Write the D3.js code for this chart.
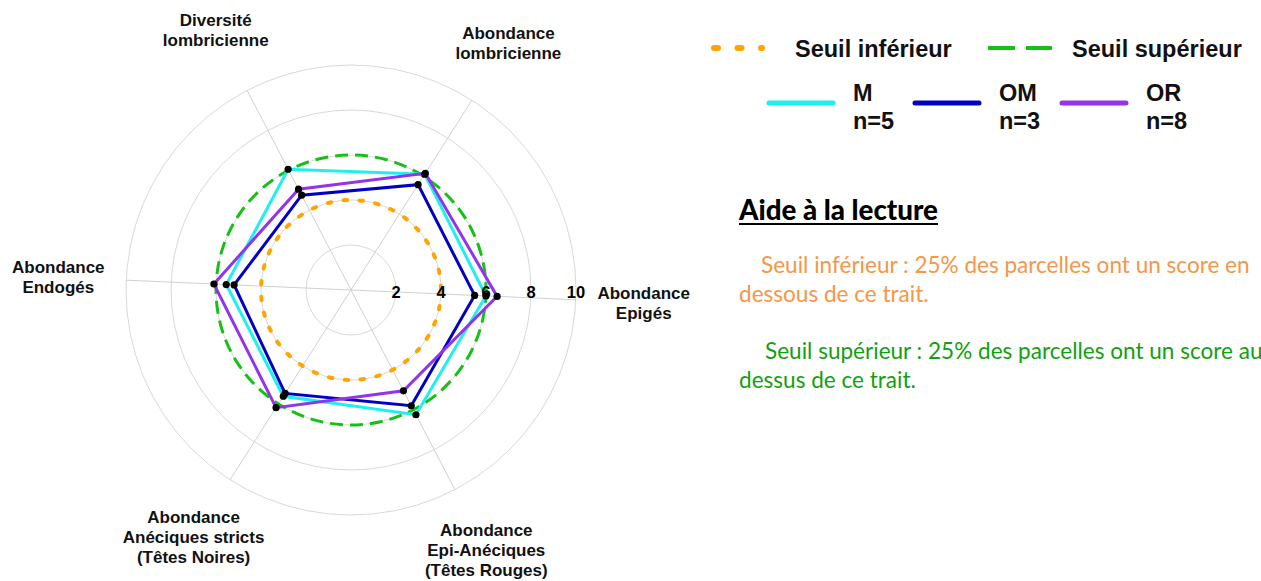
<!DOCTYPE html>
<html>
<head>
<meta charset="utf-8">
<script src="https://cdn.jsdelivr.net/npm/d3@7"></script>
<style>
  html, body { margin: 0; padding: 0; background: #ffffff; }
  svg { display: block; }
</style>
</head>
<body>
<svg id="chart" width="1261" height="581"></svg>
<script>
// ---------------- DATA ----------------
const categories = [
  ["Abondance", "Epigés"],
  ["Abondance", "lombricienne"],
  ["Diversité", "lombricienne"],
  ["Abondance", "Endogés"],
  ["Abondance", "Anéciques stricts", "(Têtes Noires)"],
  ["Abondance", "Epi-Anéciques", "(Têtes Rouges)"]
];
const seriesNames = ["M", "OM", "OR"];
const seriesCounts = ["n=5", "n=3", "n=8"];
const valuesM  = [6.0, 6.1, 6.05, 5.55, 5.6, 6.25];
const valuesOM = [5.5, 5.55, 4.75, 5.2, 5.45, 5.8];
const valuesOR = [6.5, 6.15, 5.05, 6.1, 6.2, 5.05];
const seuilInferieur = 4;
const seuilSuperieur = 6;
const radialTicks = [2, 4, 6, 8, 10];
const thresholdNames = ["Seuil inférieur", "Seuil supérieur"];
const helpTitle = "Aide à la lecture";
const helpLines = [
  "Seuil inférieur : 25% des parcelles ont un score en",
  "dessous de ce trait.",
  "Seuil supérieur : 25% des parcelles ont un score au",
  "dessus de ce trait."
];

// ---------------- LAYOUT ----------------
const svg = d3.select("#chart");
const cx = 351, cy = 290, R = 225;
const seriesColors = ["#1ef0f0", "#0000c4", "#9333ea"];
const seriesValues = [valuesM, valuesOM, valuesOR];

const r = d3.scaleLinear().domain([0, 10]).range([0, R]);
// d3 radial angle (clockwise from 12 o'clock); first axis slightly below horizontal-right
const angle = d3.scaleLinear().domain([0, categories.length])
  .range([92.5 * Math.PI / 180, (92.5 - 360) * Math.PI / 180]);

const g = svg.append("g").attr("transform", `translate(${cx},${cy})`);

// grid rings
g.selectAll("circle.ring").data(radialTicks).join("circle")
  .attr("class", "ring")
  .attr("r", d => r(d))
  .attr("fill", "none")
  .attr("stroke", "#d9d9d9")
  .attr("stroke-width", 1);

// spokes
g.selectAll("line.spoke").data(categories).join("line")
  .attr("class", "spoke")
  .attr("x1", 0).attr("y1", 0)
  .attr("x2", (d, i) => r(10) * Math.sin(angle(i)))
  .attr("y2", (d, i) => -r(10) * Math.cos(angle(i)))
  .attr("stroke", "#d0d0d0")
  .attr("stroke-width", 1);

// thresholds
g.append("circle").attr("r", r(seuilInferieur))
  .attr("fill", "none").attr("stroke", "#ffa500")
  .attr("stroke-width", 4).attr("stroke-linecap", "round")
  .attr("stroke-dasharray", "3.5 12.5");
g.append("circle").attr("r", r(seuilSuperieur))
  .attr("fill", "none").attr("stroke", "#17c017")
  .attr("stroke-width", 3)
  .attr("stroke-dasharray", "13 7");

// series
const radial = d3.lineRadial()
  .angle((d, i) => angle(i))
  .radius(d => r(d))
  .curve(d3.curveLinearClosed);

seriesValues.forEach((vals, s) => {
  g.append("path")
    .attr("d", radial(vals))
    .attr("fill", "none")
    .attr("stroke", seriesColors[s])
    .attr("stroke-width", 3)
    .attr("stroke-linejoin", "miter");
});
seriesValues.forEach((vals) => {
  g.selectAll(null).data(vals).join("circle")
    .attr("cx", (d, i) => r(d) * Math.sin(angle(i)))
    .attr("cy", (d, i) => -r(d) * Math.cos(angle(i)))
    .attr("r", 3.6)
    .attr("fill", "#000");
});

// radial tick labels
g.selectAll("text.tick").data(radialTicks).join("text")
  .attr("class", "tick")
  .attr("x", d => r(d))
  .attr("y", 2.5)
  .attr("dy", "0.36em")
  .attr("text-anchor", "middle")
  .attr("font-family", "Liberation Sans, Arial, sans-serif")
  .attr("font-weight", "bold")
  .attr("font-size", 16.5)
  .attr("fill", "#000")
  .text(d => d);

// category labels
const labelR = R + 68;
const lineH = 20;
categories.forEach((lines, i) => {
  const a = angle(i);
  const x = labelR * Math.sin(a);
  const y = -labelR * Math.cos(a);
  const t = g.append("text")
    .attr("text-anchor", "middle")
    .attr("font-family", "Liberation Sans, Arial, sans-serif")
    .attr("font-weight", "bold")
    .attr("font-size", 17)
    .attr("fill", "#111");
  const y0 = y - (lines.length - 1) * lineH / 2;
  lines.forEach((ln, k) => {
    t.append("tspan").attr("x", x).attr("y", y0 + k * lineH).attr("dy", "0.36em").text(ln);
  });
});

// ---------------- LEGEND ----------------
const leg = svg.append("g");
const legFont = "Liberation Sans, Arial, sans-serif";
leg.append("line").attr("x1", 714).attr("x2", 762).attr("y1", 48).attr("y2", 48)
  .attr("stroke", "#ffa500").attr("stroke-width", 6).attr("stroke-linecap", "round")
  .attr("stroke-dasharray", "4 19.5");
leg.append("text").attr("x", 795).attr("y", 57).text(thresholdNames[0]);
leg.append("line").attr("x1", 988).attr("x2", 1052).attr("y1", 48).attr("y2", 48)
  .attr("stroke", "#17c017").attr("stroke-width", 4)
  .attr("stroke-dasharray", "27 11");
leg.append("text").attr("x", 1072).attr("y", 57).text(thresholdNames[1]);

const legX = [769, 915, 1062];
seriesNames.forEach((nm, s) => {
  leg.append("line").attr("x1", legX[s]).attr("x2", legX[s] + 64)
    .attr("y1", 103).attr("y2", 103)
    .attr("stroke", seriesColors[s]).attr("stroke-width", 5).attr("stroke-linecap", "round");
  leg.append("text").attr("x", legX[s] + 84).attr("y", 101).text(nm);
  leg.append("text").attr("x", legX[s] + 84).attr("y", 129).text(seriesCounts[s]);
});
leg.selectAll("text")
  .attr("font-family", legFont).attr("font-weight", "bold")
  .attr("font-size", 23.5).attr("fill", "#111");

// ---------------- HELP TEXT ----------------
const helpFont = "Lato, 'Open Sans', sans-serif";
const title = svg.append("text").attr("x", 739).attr("y", 220)
  .attr("font-family", helpFont).attr("font-weight", "900")
  .attr("font-size", 26).attr("fill", "#000")
  .text(helpTitle);
// fit title width to ~199px
let tw = title.node().getComputedTextLength();
title.attr("font-size", 26 * 199 / tw);
tw = title.node().getComputedTextLength();
svg.append("line").attr("x1", 739).attr("x2", 739 + tw).attr("y1", 224).attr("y2", 224)
  .attr("stroke", "#000").attr("stroke-width", 2);

const helpX = [761, 739, 765, 739];
const helpY = [273, 302, 359, 388];
const helpColors = ["#f79646", "#f79646", "#12a012", "#12a012"];
const helpTexts = helpLines.map((ln, k) => svg.append("text")
  .attr("x", helpX[k]).attr("y", helpY[k])
  .attr("font-family", helpFont).attr("font-size", 21)
  .attr("fill", helpColors[k]).text(ln));
const w0 = helpTexts[0].node().getComputedTextLength();
const fs = 21 * 489 / w0;
helpTexts.forEach(t => t.attr("font-size", fs));
</script>
</body>
</html>
